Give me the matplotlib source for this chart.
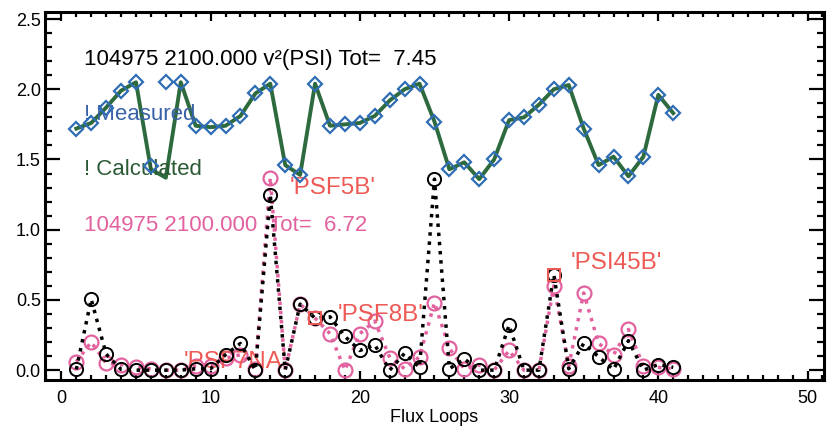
import numpy as np
import matplotlib.pyplot as plt
from matplotlib.ticker import MultipleLocator

plt.rcParams['font.family'] = ['Liberation Sans', 'DejaVu Sans']

# flux loop index
loops = np.arange(1, 42)

# measured / calculated flux (upper traces)
measured = [1.72, 1.76, 1.87, 1.99, 2.05, 1.45, 2.05, 2.05, 1.74, 1.73,
            1.74, 1.81, 1.97, 2.04, 1.46, 1.39, 2.04, 1.74, 1.75, 1.76,
            1.81, 1.92, 2.00, 2.04, 1.77, 1.43, 1.48, 1.36, 1.50, 1.78,
            1.80, 1.89, 2.00, 2.03, 1.72, 1.46, 1.52, 1.38, 1.52, 1.96,
            1.83]
calculated = [1.72, 1.76, 1.87, 1.99, 2.05, 1.43, 1.37, 2.05, 1.74, 1.73,
              1.74, 1.81, 1.97, 2.04, 1.46, 1.39, 2.04, 1.74, 1.75, 1.76,
              1.81, 1.92, 2.00, 2.04, 1.77, 1.43, 1.48, 1.36, 1.50, 1.78,
              1.80, 1.89, 2.00, 2.03, 1.72, 1.46, 1.52, 1.38, 1.52, 1.96,
              1.83]

# chi-square per loop, two fits
chi_a = [0.005, 0.505, 0.114, 0.005, 0.0, 0.0, 0.0, 0.0, 0.01, 0.01,
         0.11, 0.19, 0.0, 1.25, 0.0, 0.47, 0.37, 0.38, 0.24, 0.14,
         0.18, 0.0, 0.12, 0.02, 1.36, 0.01, 0.08, 0.0, 0.0, 0.32,
         0.0, 0.0, 0.68, 0.01, 0.19, 0.095, 0.005, 0.21, 0.0, 0.04,
         0.02]
chi_b = [0.06, 0.20, 0.05, 0.04, 0.02, 0.01, 0.0, 0.0, 0.03, 0.03,
         0.085, 0.11, 0.01, 1.37, 0.0, 0.47, 0.37, 0.26, 0.0, 0.26,
         0.35, 0.09, 0.01, 0.095, 0.48, 0.155, 0.01, 0.035, 0.0, 0.14,
         0.0, 0.0, 0.60, 0.03, 0.55, 0.19, 0.11, 0.29, 0.03, 0.02,
         0.01]

flagged_x = [17, 33]
flagged_y = [0.37, 0.68]

loop_names = ["'PSF5B'", "'PSF8B'", "'PSI45B'", "'PSF7NA'"]
name_x = [15.3, 18.5, 34.1, 8.2]
name_y = [1.30, 0.39, 0.76, 0.06]

blue = '#2f6db5'
green = '#2d6a3e'
pink = '#e2629f'
red = '#ee5a55'

fig = plt.figure(figsize=(8.28, 4.3), dpi=100)
ax = fig.add_axes([0.0543, 0.1163, 0.9408, 0.8558])

ax.plot(loops, chi_b, ':', color=pink, lw=2.5, marker='o', ms=10,
        mfc='none', mec=pink, mew=1.6, zorder=3)
ax.plot(loops, chi_a, ':', color='black', lw=2.5, marker='o', ms=9.5,
        mfc='none', mec='black', mew=1.4, zorder=4)
ax.plot(flagged_x, flagged_y, 's', ms=8, mfc='none', mec=red, mew=1.4, zorder=5)

ax.plot(loops, calculated, '-', color=green, lw=2.8, zorder=3)
ax.plot(loops, measured, 'D', ms=7.5, mfc='none', mec=blue, mew=1.6, zorder=4)

ax.text(1.54, 2.21, '104975 2100.000 v\u00b2(PSI) Tot=  7.45', fontsize=16,
        color='black', va='center')
ax.text(1.54, 1.82, '! Measured', fontsize=16, color='#3a62a8', va='center')
ax.text(1.54, 1.43, '! Calculated', fontsize=16, color='#2c5a35', va='center')
ax.text(1.54, 1.03, '104975 2100.000  Tot=  6.72', fontsize=16, color=pink,
        va='center')
for name, nx, ny in zip(loop_names, name_x, name_y):
    ax.text(nx, ny, name, fontsize=17.5, color=red, va='center')

ax.set_xlim(-1.1, 51.1)
ax.set_ylim(-0.07, 2.55)
ax.xaxis.set_major_locator(MultipleLocator(10))
ax.xaxis.set_minor_locator(MultipleLocator(1))
ax.yaxis.set_major_locator(MultipleLocator(0.5))
ax.yaxis.set_minor_locator(MultipleLocator(0.1))
ax.yaxis.set_major_formatter(lambda v, p: '%.1f' % v)

ax.tick_params(axis='both', which='both', direction='in', top=True, right=True,
               labelsize=13, width=1.6)
ax.tick_params(axis='x', which='major', length=6.5, pad=7)
ax.tick_params(axis='x', which='minor', length=3.5)
ax.tick_params(axis='y', which='major', length=11, pad=3)
ax.tick_params(axis='y', which='minor', length=5)
for s in ax.spines.values():
    s.set_linewidth(2.2)

ax.set_xlabel('Flux Loops', fontsize=13, labelpad=2)

fig.savefig('out.png', dpi=100)
